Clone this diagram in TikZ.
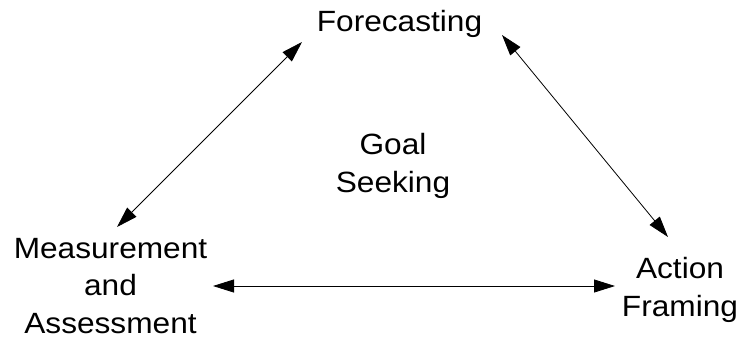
\documentclass[tikz,border=0pt]{standalone}
\usepackage{fontspec}
\setmainfont{Liberation Sans}[FakeStretch=1.08]
\usetikzlibrary{arrows.meta}
\tikzset{
  lbl/.style={inner sep=0pt, anchor=base, align=center, font=\fontsize{29.3}{37.5}\selectfont},
  arr/.style={line width=0.8pt, {Triangle[length=21pt,width=13pt]}-{Triangle[length=21pt,width=13pt]}}
}
\begin{document}
\begin{tikzpicture}[x=1pt,y=-1pt]
\useasboundingbox (0,0) rectangle (741,341);
\node[lbl] (f) at (399.5,31.7) {Forecasting};
\node[lbl] (g) at (393,192) {Goal\\Seeking};
\node[lbl] (m) at (110.5,333.3) {Measurement\\and\\Assessment};
\node[lbl] (a) at (680,316) {Action\\Framing};
\coordinate (mf) at (117,227);
\coordinate (fm) at (302,42);
\coordinate (fa) at (502,35);
\coordinate (af) at (668,237);
\coordinate (ma) at (213,286);
\coordinate (am) at (615,286);
\draw[arr] (mf) -- (fm);
\draw[arr] (fa) -- (af);
\draw[arr] (ma) -- (am);
\end{tikzpicture}
\end{document}
